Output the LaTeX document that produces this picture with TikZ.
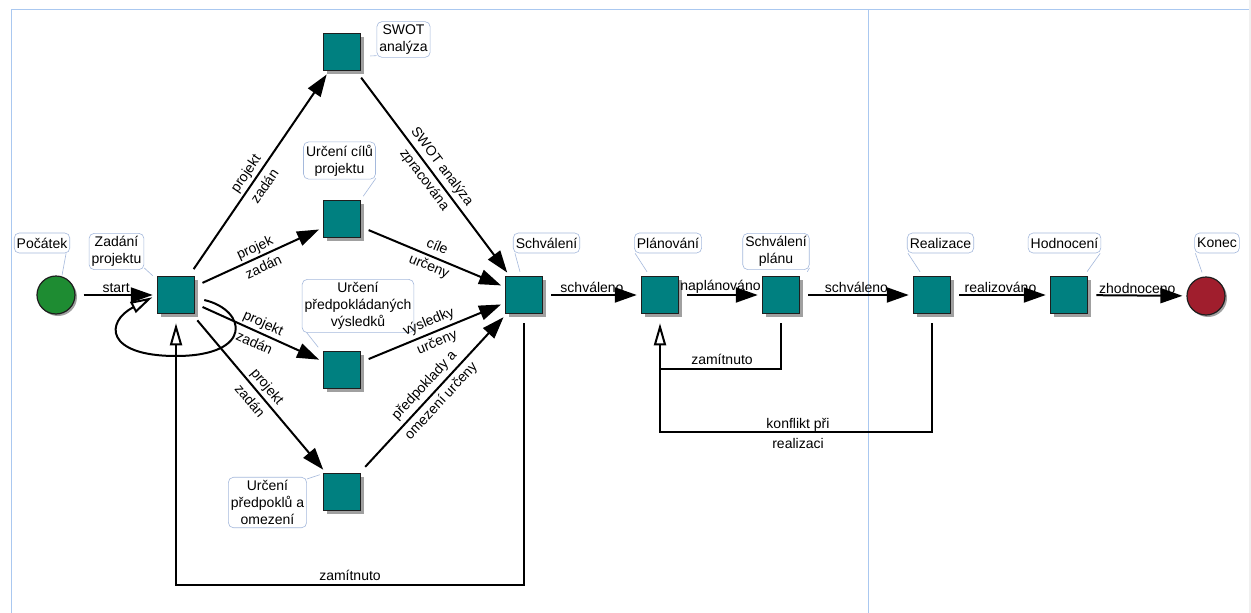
\documentclass[tikz,border=0pt]{standalone}
\usepackage{fontspec}
\setmainfont{Liberation Sans}
\usetikzlibrary{arrows.meta,shadows,calc}
\definecolor{tealbox}{RGB}{0,128,128}
\definecolor{boxline}{RGB}{30,30,30}
\definecolor{startgreen}{RGB}{30,140,50}
\definecolor{endred}{RGB}{160,30,45}
\definecolor{calloutline}{RGB}{165,185,220}
\definecolor{frameblue}{RGB}{170,200,240}
\definecolor{shadowgray}{RGB}{160,160,160}
\definecolor{stripgray}{RGB}{240,240,240}
\tikzset{
  txt/.style={font=\fontsize{14}{17}\selectfont},
  task/.style={rectangle, minimum size=37pt, inner sep=0pt, fill=tealbox, draw=boxline, line width=1.5pt,
    drop shadow={shadow xshift=3pt, shadow yshift=-3pt, fill=shadowgray, opacity=1}},
  startev/.style={circle, minimum size=38pt, inner sep=0pt, fill=startgreen, draw=boxline, line width=1.2pt,
    drop shadow={shadow xshift=2pt, shadow yshift=-2pt, fill=shadowgray, opacity=1}},
  endev/.style={circle, minimum size=38pt, inner sep=0pt, fill=endred, draw=boxline, line width=1.2pt,
    drop shadow={shadow xshift=2pt, shadow yshift=-2pt, fill=shadowgray, opacity=1}},
  callout/.style={txt, draw=calloutline, rounded corners=5pt, align=center, inner xsep=2.5pt, inner ysep=3pt,
    minimum height=20pt, line width=0.6pt, fill=white},
  tail/.style={draw=calloutline, line width=0.6pt},
  flow/.style={line width=2pt, -{Triangle[length=22pt,width=15pt]}, shorten <=8pt, shorten >=4pt},
  flowline/.style={line width=2pt, shorten <=9pt},
  back/.style={line width=2pt, -{Triangle[open,length=22pt,width=12pt,fill=white]}, shorten <=9pt, shorten >=9pt},
  lab/.style={txt, align=center, inner sep=1pt}
}
\begin{document}
\begin{tikzpicture}[x=1pt,y=-1pt]
\useasboundingbox (0,0) rectangle (1251,613);
\fill[white] (0,0) rectangle (1251,613);
\fill[stripgray] (1249,0) rectangle (1251,613);
\draw[frameblue, line width=1pt] (11,613) -- (11,9) -- (1249,9);
\draw[frameblue, line width=1pt] (868,9) -- (868,613);

% nodes
\node[startev] (poc) at (56,295) {};
\node[task] (zad) at (176,295) {};
\node[task] (swot) at (342,52) {};
\node[task] (cil) at (342,219) {};
\node[task] (vys) at (342,370) {};
\node[task] (pre) at (342,492) {};
\node[task] (schv) at (524,295) {};
\node[task] (plan) at (660,295) {};
\node[task] (sp) at (781,295) {};
\node[task] (real) at (932,295) {};
\node[task] (hod) at (1069,295) {};
\node[endev] (kon) at (1206,296) {};

% callouts
\node[callout] (lpoc) at (42,243) {Počátek};
\node[callout] (lzad) at (116.5,251.5) {Zadání\\projektu};
\node[callout] (lswot) at (403.5,39.5) {SWOT\\analýza};
\node[callout] (lcil) at (339.5,160.5) {Určení cílů\\projektu};
\node[callout] (lvys) at (358,306) {Určení\\předpokládaných\\výsledků};
\node[callout] (lpre) at (267.5,502.5) {Určení\\předpoklů a\\omezení};
\node[callout] (lschv) at (546.5,243) {Schválení};
\node[callout] (lplan) at (668,243) {Plánování};
\node[callout] (lsp) at (776,251.5) {Schválení\\plánu};
\node[callout] (lreal) at (940.5,243) {Realizace};
\node[callout] (lhod) at (1064.5,243) {Hodnocení};
\node[callout] (lkon) at (1217,243) {Konec};

% callout tails
\draw[tail] ([xshift=-4pt]lpoc.south east) -- ([xshift=6pt]poc.north);
\draw[tail] ([yshift=2pt]lzad.south east) -- ([xshift=-4pt]zad.north west);
\draw[tail] ([yshift=2pt]lswot.south west) -- ([shift={(9pt,-4pt)}]swot.east);
\draw[tail] ([yshift=1pt]lcil.south east) -- ([shift={(2pt,3.5pt)}]cil.north east);
\draw[tail] ([xshift=5pt]lvys.south west) -- ([shift={(-4.5pt,3.5pt)}]vys.north west);
\draw[tail] ([yshift=-2pt]lpre.north east) -- ([shift={(-3pt,-2pt)}]pre.north west);
\draw[tail] ([xshift=2pt]lschv.south west) -- ([shift={(-4pt,4pt)}]schv.north);
\draw[tail] ([xshift=1pt]lplan.south west) -- ([shift={(-13pt,4pt)}]plan.north);
\draw[tail] ([yshift=2pt]lsp.south east) -- ([shift={(7pt,4pt)}]sp.north east);
\draw[tail] ([xshift=1pt]lreal.south west) -- ([shift={(-12pt,4pt)}]real.north);
\draw[tail] ([xshift=-1pt]lhod.south east) -- ([shift={(18pt,4pt)}]hod.north);
\draw[tail] ([xshift=1pt]lkon.south west) -- ([shift={(-4pt,4pt)}]kon.north);

% main flow
\draw[flow] (poc) -- node[above,lab]{start} (zad);
\draw[flow] (zad) -- node[sloped,pos=.47,lab]{projekt\\[6pt]zadán} (swot);
\draw[flow] (zad) -- node[sloped,lab]{projek\\[4pt]zadán} (cil);
\draw[flow] (zad) -- node[sloped,lab]{projekt\\[5pt]zadán} (vys);
\draw[flow] (zad) -- node[sloped,lab]{projekt\\[6pt]zadán} (pre);
\draw[flow] (swot) -- node[sloped,lab]{SWOT analýza\\[5pt]zpracována} (schv);
\draw[flow] (cil) -- node[sloped,lab]{cíle\\[4pt]určeny} (schv);
\draw[flow] (vys) -- node[sloped,lab]{výsledky\\[5pt]určeny} (schv);
\draw[flow] (pre) -- node[sloped,lab]{předpoklady a\\[6pt]omezení určeny} (schv);
\draw[flow] (schv) -- node[above,lab]{schváleno} (plan);
\draw[flow] (plan) -- node[above,lab]{naplánováno} (sp);
\draw[flow] (sp) -- node[above,lab]{schváleno} (real);
\draw[flow] (real) -- node[above,lab]{realizováno} (hod);
\draw[flow] (hod) -- node[above,lab]{zhodnoceno} (kon);

% self loop on Zadání projektu
\draw[back, shorten <=0pt, shorten >=5pt] ([shift={(9pt,-5pt)}]zad.east)
  .. controls (247,310) and (254,356) .. (176,356)
  .. controls (105,356) and (105,322) .. (zad.west);

% return paths
\coordinate (zb) at (350,585);
\draw[back] (schv.south) |- (zb) -| (zad.south);
\node[lab] (lz1) at (350,575) {zamítnuto};

\coordinate (pj) at (722,369);
\draw[back] (sp.south) |- (pj) -| (plan.south);
\node[lab] (lz2) at (722,359) {zamítnuto};

\coordinate (kj) at (798,432);
\coordinate (pk) at (660,369);
\draw[flowline] (real.south) |- (kj) -| (pk);
\node[lab] (lkr) at (798,433) {konflikt při\\[3pt]realizaci};
\end{tikzpicture}
\end{document}
